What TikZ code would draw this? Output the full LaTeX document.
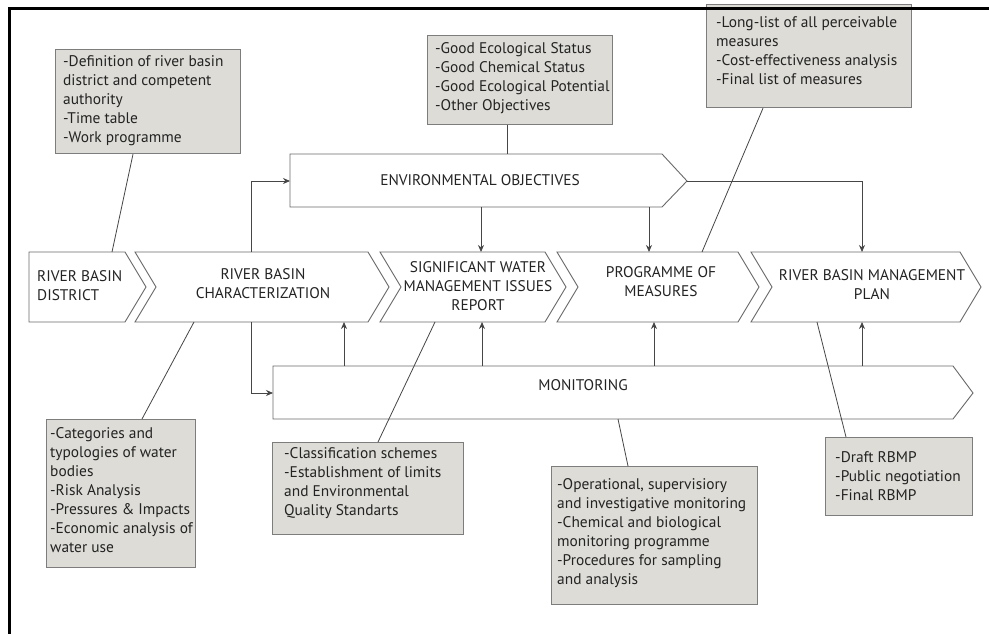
\documentclass[tikz,border=0pt]{standalone}
\usepackage{fontspec}
\setmainfont{PT Sans}
\usetikzlibrary{arrows.meta}

\definecolor{boxfill}{RGB}{221,220,215}
\definecolor{boxline}{RGB}{125,125,125}
\definecolor{chevline}{RGB}{105,105,105}
\definecolor{ink}{RGB}{35,35,35}
\definecolor{linkcol}{RGB}{70,70,70}

\begin{document}
\begin{tikzpicture}[x=1pt,y=-1pt,
  chev/.style={draw=chevline, line width=0.9pt, fill=white, line join=miter},
  notebox/.style={draw=boxline, line width=1.2pt, fill=boxfill, anchor=north west, inner sep=0pt},
  notetext/.style={anchor=north west, inner sep=0pt, align=left, text=ink, font=\fontsize{15.4}{19}\selectfont},
  chevtext/.style={inner sep=0pt, align=center, text=ink, font=\fontsize{15.4}{19}\selectfont},
  link/.style={draw=linkcol, line width=0.8pt},
  flow/.style={link, -{Stealth[length=7pt,width=6pt]}}]

\useasboundingbox (0,0) rectangle (989,634);
\fill[white] (0,0) rectangle (989,634);

% ---- process chevrons (main row) ----
\draw[chev] (29,252) -- (125,252) -- (146,287) -- (125,322) -- (29,322) -- cycle;
\draw[chev] (135,252) -- (368,252) -- (389,287) -- (368,322) -- (135,322) -- (156,287) -- cycle;
\draw[chev] (380,252) -- (545,252) -- (566,287) -- (545,322) -- (380,322) -- (401,287) -- cycle;
\draw[chev] (557,252) -- (738,252) -- (759,287) -- (738,322) -- (557,322) -- (578,287) -- cycle;
\draw[chev] (751,252) -- (960,252) -- (981,287) -- (960,322) -- (751,322) -- (772,287) -- cycle;

% ---- objectives and monitoring bands ----
\draw[chev] (290,154) -- (662,154) -- (687,181) -- (662,207) -- (290,207) -- cycle;
\draw[chev] (273,366) -- (953,366) -- (973,393) -- (953,419) -- (273,419) -- cycle;

\node[chevtext, align=left, anchor=west] (rbd) at (37,285.5) {RIVER BASIN\\DISTRICT};
\node[chevtext] (rbc) at (263,284) {RIVER BASIN\\CHARACTERIZATION};
\node[chevtext] (swmi) at (478,286) {SIGNIFICANT WATER\\MANAGEMENT ISSUES\\REPORT};
\node[chevtext] (pom) at (661,282) {PROGRAMME OF\\MEASURES};
\node[chevtext] (rbmp) at (872,285) {RIVER BASIN MANAGEMENT\\PLAN};
\node[chevtext] (envobj) at (480,180) {ENVIRONMENTAL OBJECTIVES};
\node[chevtext] (mon) at (583,385) {MONITORING};

% ---- connector end points on the bands ----
\coordinate (rbcTop) at (251,252);
\coordinate (rbcBot) at (251,322);
\coordinate (envW)   at (290,181);
\coordinate (envTip) at (687,181);
\coordinate (monW)   at (273,393);
\coordinate (envS1)  at (481,207);
\coordinate (envS2)  at (649,207);
\coordinate (swmiN)  at (481,252);
\coordinate (pomN)   at (649,252);
\coordinate (rbmpN)  at (862,252);
\coordinate (monN1)  at (344,366);
\coordinate (monN2)  at (482,366);
\coordinate (monN3)  at (654,366);
\coordinate (monN4)  at (862,366);
\coordinate (rbcS1)  at (344,322);
\coordinate (swmiS)  at (482,322);
\coordinate (pomS)   at (654,322);
\coordinate (rbmpS)  at (862,322);

% ---- flow arrows ----
\draw[flow] (rbcTop) |- (envW);
\draw[flow] (rbcBot) |- (monW);
\draw[flow] (envTip) -| (rbmpN);
\draw[flow] (envS1) -- (swmiN);
\draw[flow] (envS2) -- (pomN);
\draw[flow] (monN1) -- (rbcS1);
\draw[flow] (monN2) -- (swmiS);
\draw[flow] (monN3) -- (pomS);
\draw[flow] (monN4) -- (rbmpS);

% ---- note boxes ----
\node[notebox, minimum width=185pt, minimum height=104pt] (nDef) at (55,49) {};
\node[notetext] (tDef) at (63,55) {-Definition of river basin\\district and competent\\authority\\-Time table\\-Work programme};

\node[notebox, minimum width=185pt, minimum height=89pt] (nEnv) at (427,35) {};
\node[notetext] (tEnv) at (435,42) {-Good Ecological Status\\-Good Chemical Status\\-Good Ecological Potential\\-Other Objectives};

\node[notebox, minimum width=205pt, minimum height=103pt] (nPom) at (706,4) {};
\node[notetext] (tPom) at (716,16) {-Long-list of all perceivable\\measures\\-Cost-effectiveness analysis\\-Final list of measures};

\node[notebox, minimum width=149pt, minimum height=148pt] (nRbc) at (46,419) {};
\node[notetext] (tRbc) at (50,427) {-Categories and\\typologies of water\\bodies\\-Risk Analysis\\-Pressures \& Impacts\\-Economic analysis of\\water use};

\node[notebox, minimum width=191pt, minimum height=92pt] (nSwmi) at (272,442) {};
\node[notetext] (tSwmi) at (284,447) {-Classification schemes\\-Establishment of limits\\and Environmental\\Quality Standarts};

\node[notebox, minimum width=206pt, minimum height=138pt] (nMon) at (551,466) {};
\node[notetext] (tMon) at (557,478) {-Operational, supervisiory\\and investigative monitoring\\-Chemical and biological\\monitoring programme\\-Procedures for sampling\\and analysis};

\node[notebox, minimum width=147pt, minimum height=78pt] (nRbmp) at (825,437) {};
\node[notetext] (tRbmp) at (835,451) {-Draft RBMP\\-Public negotiation\\-Final RBMP};

% ---- callout lines from notes to stages ----
\coordinate (cDef) at (112,252);
\coordinate (cEnv) at (507,154);
\coordinate (cPom) at (702,252);
\coordinate (cRbc) at (194,322);
\coordinate (cSwmi) at (435,322);
\coordinate (cMon) at (618,419);
\coordinate (cRbmp) at (817,322);

\draw[link] (nDef.south west) ++(78,0) coordinate (sDef) -- (cDef);
\draw[link] (nEnv.south -| cEnv) -- (cEnv);
\draw[link] (nPom.south west) ++(57,0) coordinate (sPom) -- (cPom);
\draw[link] (nRbc.north west) ++(96,0) coordinate (sRbc) -- (cRbc);
\draw[link] (nSwmi.north west) ++(106,0) coordinate (sSwmi) -- (cSwmi);
\draw[link] (nMon.north west) ++(77,0) coordinate (sMon) -- (cMon);
\draw[link] (nRbmp.north west) ++(21,0) coordinate (sRbmp) -- (cRbmp);

% ---- frame (top and left edges) ----
\draw[black, line width=2.8pt] (9.5,634) -- (9.5,8.3) -- (989,8.3);
\end{tikzpicture}
\end{document}
